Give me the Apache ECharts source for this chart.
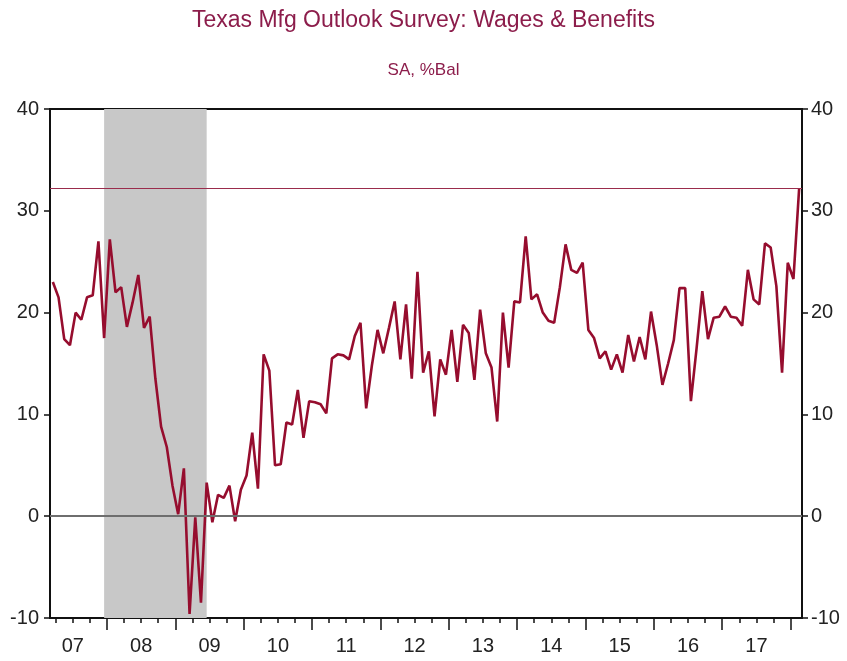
<!DOCTYPE html>
<html>
<head>
<meta charset="utf-8">
<title>Texas Mfg Outlook Survey: Wages & Benefits</title>
<script src="https://cdn.jsdelivr.net/npm/echarts@6/dist/echarts.min.js"></script>
<style>
html, body { margin: 0; padding: 0; background: #fff; }
#main { width: 847px; height: 661px; }
</style>
</head>
<body>
<div id="main"></div>
<script>
// monthly readings, SA %Bal; 2007 starts in March, 2018 ends in February
var firstYear = 2007;
var firstMonth = 3;
var vals2007 = [23.0, 21.5, 17.4, 16.8, 20.0, 19.3, 21.5, 21.7, 27.0, 17.5];
var vals2008 = [27.2, 22.0, 22.5, 18.6, 21.0, 23.7, 18.5, 19.6, 13.5, 8.8, 6.8, 3.0];
var vals2009 = [0.2, 4.7, -9.6, -0.1, -8.5, 3.3, -0.6, 2.1, 1.8, 3.0, -0.5, 2.6];
var vals2010 = [4.0, 8.2, 2.7, 15.9, 14.3, 5.0, 5.1, 9.2, 9.0, 12.4, 7.7, 11.3];
var vals2011 = [11.2, 11.0, 10.1, 15.5, 15.9, 15.8, 15.4, 17.7, 19.0, 10.6, 14.8, 18.3];
var vals2012 = [16.0, 18.5, 21.1, 15.4, 20.8, 13.5, 24.0, 14.1, 16.2, 9.8, 15.4, 13.9];
var vals2013 = [18.3, 13.2, 18.8, 18.0, 13.4, 20.3, 16.0, 14.6, 9.3, 20.0, 14.6, 21.1];
var vals2014 = [21.0, 27.5, 21.3, 21.8, 20.0, 19.2, 19.0, 22.5, 26.7, 24.2, 23.9, 24.9];
var vals2015 = [18.3, 17.5, 15.5, 16.2, 14.4, 15.9, 14.1, 17.8, 15.2, 17.6, 15.4, 20.1];
var vals2016 = [16.8, 12.9, 15.0, 17.3, 22.4, 22.4, 11.3, 16.5, 22.1, 17.4, 19.5, 19.6];
var vals2017 = [20.6, 19.6, 19.5, 18.7, 24.2, 21.3, 20.8, 26.8, 26.4, 22.6, 14.1, 24.9];
var vals2018 = [23.3, 32.2];

// recession (Dec 2007 - Jun 2009)
var recStart = [2007, 12];
var recEnd = [2009, 6];

var yearLabels = ['07', '08', '09', '10', '11', '12', '13', '14', '15', '16', '17'];
var yTicks = [-10, 0, 10, 20, 30, 40];

Chart = {
	myChart : null,
	series : [],
	// month position on the year scale, centred in the month
	pos : function(y, m){
		return y + (m - 0.5) / 12;
	},
	buildData : function(){
		var all = vals2007.concat(vals2008, vals2009, vals2010, vals2011, vals2012,
			vals2013, vals2014, vals2015, vals2016, vals2017, vals2018);
		var y = firstYear, m = firstMonth;
		for (var i = 0; i < all.length; i++) {
			Chart.series.push([Chart.pos(y, m), all[i]]);
			m++;
			if (m > 12) { m = 1; y++; }
		}
	},
	initload : function(){
		Chart.buildData();
		Chart.myChart = echarts.init(document.getElementById('main'));
		var xMin = firstYear + (firstMonth - 1) / 12;
		var xMax = xMin + 11;
		var majors = [], minors = [], labelPos = [];
		for (var yr = firstYear; yr <= 2018; yr++) {
			if (yr > firstYear) majors.push(yr);
			[0.25, 0.5, 0.75].forEach(function(q){
				if (yr + q > xMin && yr + q < xMax) minors.push(yr + q);
			});
		}
		for (var k = 0; k < yearLabels.length; k++) labelPos.push(firstYear + k + 0.5);
		var last = Chart.series[Chart.series.length - 1][1];
		var font = 'Liberation Sans, Arial, sans-serif';
		var yAxisCommon = function(pos){
			return {
				type: 'value', position: pos,
				min: yTicks[0], max: yTicks[yTicks.length - 1], interval: 10,
				axisLine: { show: true, lineStyle: { color: '#111', width: 2 } },
				axisTick: { show: true, length: 6, lineStyle: { color: '#111', width: 1.5 } },
				axisLabel: { color: '#222', fontSize: 20, fontFamily: font, margin: pos == 'left' ? 11 : 9 },
				splitLine: { show: false }
			};
		};
		var option = {
			animation: false,
			title: [{
				text: 'Texas Mfg Outlook Survey: Wages & Benefits',
				left: 'center', top: 4,
				textStyle: { color: '#8c1d4b', fontSize: 23, fontWeight: 'normal', fontFamily: font }
			}, {
				text: 'SA, %Bal',
				left: 'center', top: 57,
				textStyle: { color: '#8c1d4b', fontSize: 17, fontWeight: 'normal', fontFamily: font }
			}],
			grid: {
				left: 50, right: 45, top: 109, height: 509,
				show: true, borderColor: '#111', borderWidth: 2, backgroundColor: '#fff'
			},
			xAxis: [{
				type: 'value', min: xMin, max: xMax, position: 'bottom',
				axisLine: { show: true, onZero: false, lineStyle: { color: '#111', width: 2 } },
				axisTick: { show: true, customValues: majors, length: 12, lineStyle: { color: '#111', width: 1.5 } },
				axisLabel: {
					customValues: labelPos, color: '#222', fontSize: 20, fontFamily: font, margin: 18,
					formatter: function(v){ return yearLabels[Math.round(v - 0.5) - firstYear]; }
				},
				splitLine: { show: false }
			}, {
				type: 'value', min: xMin, max: xMax, position: 'bottom',
				axisLine: { show: false, onZero: false },
				axisTick: { show: true, customValues: minors, length: 5, lineStyle: { color: '#111', width: 1.5 } },
				axisLabel: { show: false },
				splitLine: { show: false }
			}],
			yAxis: [yAxisCommon('left'), yAxisCommon('right')],
			series: [{
				type: 'line', data: [], silent: true,
				markArea: {
					silent: true,
					itemStyle: { color: '#c8c8c8' },
					data: [[{ xAxis: Chart.pos(recStart[0], recStart[1]) }, { xAxis: Chart.pos(recEnd[0], recEnd[1]) }]]
				},
				markLine: {
					silent: true, symbol: 'none', label: { show: false },
					data: [
						{ yAxis: 0, lineStyle: { color: '#6e6e6e', width: 2, type: 'solid' } },
						{ yAxis: last, lineStyle: { color: '#9a2c4c', width: 1.2, type: 'solid' } }
					]
				}
			}, {
				type: 'line', data: Chart.series, showSymbol: false, silent: true,
				lineStyle: { color: '#960d2e', width: 2.6 }
			}]
		};
		Chart.myChart.setOption(option);
	}
};
Chart.initload();
</script>
</body>
</html>
